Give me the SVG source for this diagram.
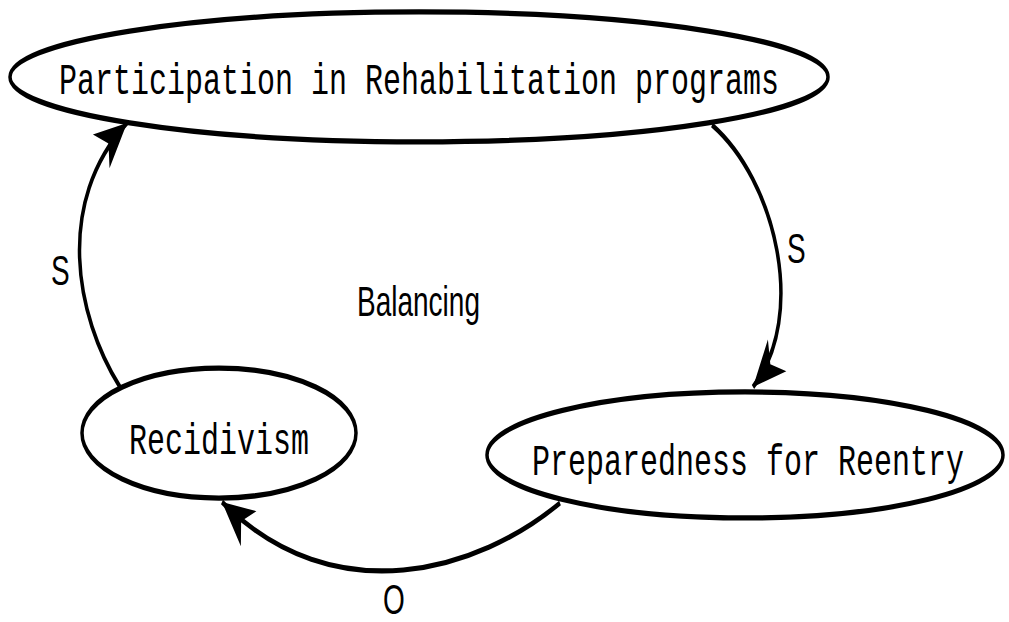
<svg xmlns="http://www.w3.org/2000/svg" width="1009" height="622" viewBox="0 0 1009 622">
<style>
.node ellipse{fill:#fff;stroke:#000;stroke-width:3.5}
.node text{font-family:"Liberation Mono","DejaVu Sans Mono",monospace;font-size:30px;fill:#000;text-anchor:middle}
.edge{fill:none;stroke:#000;stroke-width:3.5}
.lbl{font-family:"Liberation Sans","DejaVu Sans",sans-serif;font-size:28px;fill:#000}
</style>
<defs>
<marker id="ah" markerUnits="userSpaceOnUse" viewBox="-34 -16 36 32" refX="0" refY="0" markerWidth="36" markerHeight="32" orient="auto">
<path d="M0,0 L-32,-14 L-23,0 L-32,14 Z" fill="#000"/>
</marker>
</defs>
<rect width="1009" height="622" fill="#fff"/>
<g transform="scale(1,1.5)">
<g id="connectors">
<path class="edge" d="M712,83.3 C775,120 808,210 753,258" marker-end="url(#ah)"/>
<path class="edge" d="M560,335.3 C480,380 335,410 222,334.7" marker-end="url(#ah)"/>
<path class="edge" d="M120,258 C75,210 55,135 127,82" marker-end="url(#ah)"/>
<text class="lbl" x="787" y="175.3">S</text>
<text class="lbl" x="383" y="409.5">O</text>
<text class="lbl" x="51" y="190">S</text>
</g>
<g id="node-participation" class="node">
<ellipse cx="419" cy="51.3" rx="409" ry="43.3"/>
<text x="419" y="63">Participation in Rehabilitation programs</text>
</g>
<g id="node-recidivism" class="node">
<ellipse cx="219" cy="288.7" rx="137" ry="43.3"/>
<text x="219" y="303">Recidivism</text>
</g>
<g id="node-preparedness" class="node">
<ellipse cx="745" cy="303.3" rx="258" ry="42"/>
<text x="748" y="316.5">Preparedness for Reentry</text>
</g>
<text id="loop-label" class="lbl" x="357" y="211">Balancing</text>
</g>
</svg>
